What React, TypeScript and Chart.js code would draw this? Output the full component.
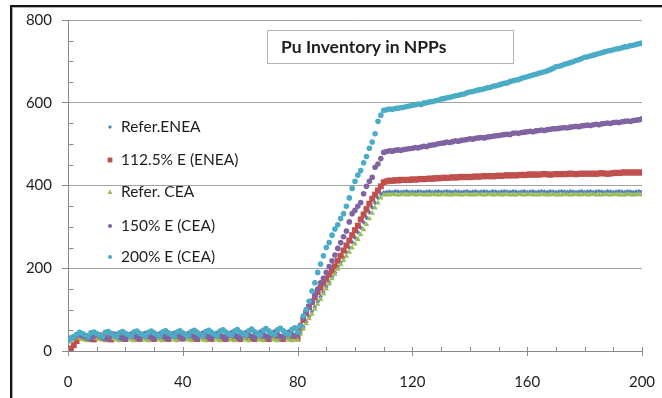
import React, { useEffect, useRef } from "react";
import { Chart, registerables } from "chart.js";

Chart.register(...registerables);

// ---- Data (x = year index 0..200) ----
const yearCount = 201;
const xMajorTicks = [0, 40, 80, 120, 160, 200];
const yMajorTicks = [0, 200, 400, 600, 800];

const seriesLabels = ["Refer.ENEA", "112.5% E (ENEA)", "Refer. CEA", "150% E (CEA)", "200% E (CEA)"];

const referEnea = [
  30, 32, 35, 38, 36, 33, 31, 29, 36, 38,
  35, 32, 30, 28, 36, 39, 35, 31, 29, 36,
  38, 34, 31, 29, 36, 39, 35, 32, 29, 36,
  38, 35, 31, 29, 37, 39, 35, 31, 29, 36,
  39, 35, 32, 29, 36, 38, 34, 31, 29, 37,
  39, 35, 31, 29, 36, 38, 35, 31, 29, 37,
  39, 35, 32, 29, 36, 38, 34, 31, 29, 37,
  39, 35, 31, 29, 36, 38, 35, 31, 29, 33,
  31, 45, 58, 70, 83, 95, 106, 119, 131, 142,
  155, 166, 179, 190, 203, 214, 226, 239, 250, 263,
  274, 287, 298, 311, 322, 335, 347, 358, 370, 379,
  383, 384, 385, 384, 386, 385, 384, 385, 386, 384,
  385, 384, 386, 385, 384, 385, 386, 384, 385, 386,
  384, 385, 386, 385, 384, 386, 385, 384, 385, 386,
  384, 385, 386, 384, 385, 386, 385, 384, 386, 385,
  384, 385, 386, 385, 384, 386, 385, 384, 385, 386,
  384, 385, 386, 384, 385, 386, 385, 384, 386, 385,
  384, 385, 386, 385, 384, 386, 385, 384, 385, 386,
  384, 385, 386, 384, 385, 386, 385, 384, 386, 385,
  384, 385, 386, 385, 384, 386, 385, 384, 385, 386,
  384,
];

const enea1125 = [
  0, 6, 14, 24, 34, 38, 36, 33, 30, 28,
  36, 38, 35, 32, 30, 28, 37, 39, 35, 31,
  29, 36, 38, 34, 31, 29, 37, 40, 36, 32,
  29, 35, 39, 35, 31, 29, 38, 40, 36, 32,
  30, 36, 39, 35, 31, 29, 37, 39, 34, 31,
  29, 36, 38, 35, 31, 29, 37, 40, 35, 32,
  29, 36, 38, 34, 31, 29, 37, 39, 35, 31,
  29, 36, 38, 34, 31, 29, 37, 38, 35, 31,
  30, 56, 75, 92, 106, 118, 130, 142, 153, 165,
  175, 185, 194, 205, 218, 230, 243, 255, 267, 280,
  292, 303, 318, 330, 343, 356, 368, 378, 388, 398,
  408, 410, 412, 411, 413, 412, 414, 413, 414, 413,
  415, 414, 415, 416, 415, 416, 417, 416, 418, 417,
  418, 419, 418, 419, 420, 419, 420, 421, 420, 421,
  420, 421, 422, 421, 422, 423, 422, 423, 422, 423,
  424, 423, 424, 425, 424, 425, 424, 425, 426, 425,
  426, 427, 426, 427, 426, 427, 428, 427, 426, 427,
  428, 427, 428, 427, 428, 429, 428, 427, 428, 429,
  428, 429, 428, 429, 428, 429, 430, 429, 428, 429,
  430, 431, 430, 431, 432, 431, 432, 431, 432, 431,
  432,
];

const referCea = [
  22, 26, 30, 33, 31, 28, 26, 25, 31, 34,
  31, 28, 26, 25, 32, 34, 30, 27, 25, 31,
  34, 31, 27, 25, 31, 34, 30, 27, 25, 32,
  34, 30, 27, 25, 31, 34, 31, 27, 25, 32,
  34, 30, 27, 25, 31, 33, 30, 27, 25, 32,
  34, 31, 27, 25, 32, 34, 30, 27, 25, 31,
  34, 30, 27, 25, 32, 34, 30, 27, 25, 31,
  34, 30, 27, 25, 31, 33, 30, 27, 25, 28,
  27, 41, 54, 66, 78, 89, 101, 113, 125, 138,
  150, 162, 175, 186, 198, 209, 219, 229, 239, 249,
  259, 270, 281, 293, 306, 320, 333, 346, 358, 370,
  377, 378, 377, 379, 378, 377, 378, 379, 377, 378,
  379, 377, 378, 379, 377, 378, 377, 379, 378, 377,
  378, 379, 377, 378, 377, 379, 378, 377, 378, 379,
  377, 378, 377, 379, 378, 377, 378, 379, 377, 378,
  379, 377, 378, 379, 377, 378, 377, 379, 378, 377,
  378, 379, 377, 378, 377, 379, 378, 377, 378, 379,
  377, 378, 377, 379, 378, 377, 378, 379, 377, 378,
  379, 377, 378, 379, 377, 378, 377, 379, 378, 377,
  378, 379, 377, 378, 377, 379, 378, 377, 378, 379,
  377,
];

const cea150 = [
  28, 31, 34, 37, 40, 37, 34, 31, 29, 37,
  40, 36, 33, 30, 29, 38, 41, 37, 33, 30,
  29, 37, 41, 37, 33, 30, 38, 42, 37, 33,
  30, 38, 41, 37, 33, 30, 38, 42, 38, 34,
  30, 39, 42, 38, 34, 30, 39, 43, 38, 34,
  31, 39, 43, 38, 34, 31, 40, 44, 39, 34,
  31, 40, 44, 39, 35, 31, 41, 45, 40, 35,
  32, 41, 46, 40, 35, 32, 42, 46, 40, 36,
  42, 62, 80, 95, 108, 121, 135, 150, 165, 176,
  190, 204, 218, 232, 248, 262, 276, 290, 312, 332,
  340, 350, 359, 380, 398, 410, 420, 444, 452, 465,
  480, 482, 484, 483, 485, 486, 485, 487, 488, 489,
  490, 492, 491, 493, 495, 494, 497, 498, 499, 501,
  502, 503, 505, 504, 506, 508, 507, 509, 510, 511,
  513, 512, 514, 515, 516, 515, 517, 518, 519, 520,
  521, 522, 523, 524, 523, 526, 527, 526, 528, 529,
  530, 531, 530, 532, 533, 534, 533, 535, 536, 537,
  537, 538, 539, 540, 539, 541, 542, 543, 542, 544,
  545, 546, 545, 547, 548, 547, 549, 550, 551, 550,
  552, 553, 552, 554, 555, 556, 555, 557, 558, 559,
  561,
];

const cea200 = [
  25, 30, 35, 40, 45, 42, 38, 34, 44, 46,
  42, 38, 35, 45, 47, 43, 38, 35, 44, 47,
  43, 39, 36, 46, 48, 43, 39, 36, 45, 48,
  44, 39, 36, 46, 49, 44, 40, 36, 46, 49,
  44, 40, 37, 47, 50, 45, 40, 37, 47, 50,
  45, 41, 37, 48, 51, 46, 41, 38, 48, 52,
  46, 41, 38, 49, 53, 47, 42, 38, 50, 54,
  48, 42, 39, 51, 55, 49, 43, 40, 52, 56,
  46, 60, 85, 100, 120, 145, 165, 190, 210, 230,
  250, 262, 280, 295, 305, 320, 332, 350, 370, 393,
  410, 425, 436, 455, 470, 490, 505, 525, 555, 570,
  582, 583, 585, 584, 586, 587, 588, 589, 591, 592,
  594, 595, 597, 596, 599, 600, 602, 603, 605, 606,
  609, 610, 612, 613, 615, 617, 618, 620, 621, 624,
  626, 627, 629, 631, 632, 634, 636, 637, 640, 641,
  643, 645, 647, 648, 651, 653, 655, 656, 659, 661,
  663, 665, 667, 669, 671, 673, 675, 677, 680, 683,
  687, 688, 690, 693, 695, 697, 699, 702, 704, 707,
  710, 711, 713, 715, 717, 719, 721, 723, 725, 726,
  728, 730, 731, 733, 735, 736, 738, 739, 741, 743,
  744,
];

const titleText = "Pu Inventory in NPPs";

// ---- Styles ----
const FONT = "Lato, 'Open Sans', sans-serif";
const TEXT = "#1e1e1e";
const AXIS = "#8a8a8a";
const GRID = "#a3a3a3";

type SeriesStyle = { color: string; shape: string; radius: number; order: number };
const styles: SeriesStyle[] = [
  { color: "#4F81BD", shape: "rectRot", radius: 2.4, order: 5 },
  { color: "#C0504D", shape: "rect", radius: 4.2, order: 4 },
  { color: "#9BBB59", shape: "triangle", radius: 3.2, order: 3 },
  { color: "#8064A2", shape: "circle", radius: 2.8, order: 2 },
  { color: "#4BACC6", shape: "circle", radius: 2.8, order: 1 },
];
const allSeries = [referEnea, enea1125, referCea, cea150, cea200];

function drawMarker(ctx: CanvasRenderingContext2D, shape: string, x: number, y: number, s: number, color: string) {
  ctx.fillStyle = color;
  ctx.beginPath();
  if (shape === "rect") {
    ctx.rect(x - s, y - s, 2 * s, 2 * s);
  } else if (shape === "rectRot") {
    ctx.moveTo(x, y - s);
    ctx.lineTo(x + s, y);
    ctx.lineTo(x, y + s);
    ctx.lineTo(x - s, y);
    ctx.closePath();
  } else if (shape === "triangle") {
    ctx.moveTo(x, y - s);
    ctx.lineTo(x + s, y + s * 0.8);
    ctx.lineTo(x - s, y + s * 0.8);
    ctx.closePath();
  } else {
    ctx.arc(x, y, s, 0, Math.PI * 2);
  }
  ctx.fill();
}

const overlayPlugin = {
  id: "overlay",
  afterDraw(chart: any) {
    const ctx: CanvasRenderingContext2D = chart.ctx;
    const xs = chart.scales.x;
    const ys = chart.scales.y;
    const axisY = Math.round(ys.getPixelForValue(0)) + 0.5;
    const axisX = Math.round(xs.getPixelForValue(0)) + 0.5;
    ctx.save();
    ctx.strokeStyle = AXIS;
    ctx.lineWidth = 1;
    ctx.beginPath();
    // x-axis ticks: minor every 10 (inside), major crossing
    for (let v = 0; v <= 200; v += 10) {
      const px = Math.round(xs.getPixelForValue(v)) + 0.5;
      if (xMajorTicks.includes(v)) {
        ctx.moveTo(px, axisY - 4.5);
        ctx.lineTo(px, axisY + 4.5);
      } else {
        ctx.moveTo(px, axisY - 4.5);
        ctx.lineTo(px, axisY);
      }
    }
    // y-axis minor ticks every 50 (inside)
    for (let v = 50; v < 800; v += 50) {
      if (yMajorTicks.includes(v)) continue;
      const py = Math.round(ys.getPixelForValue(v)) + 0.5;
      ctx.moveTo(axisX, py);
      ctx.lineTo(axisX + 5, py);
    }
    ctx.stroke();

    // title box
    ctx.fillStyle = "#ffffff";
    ctx.fillRect(267, 30, 246, 33);
    ctx.strokeStyle = "#b4b4b4";
    ctx.strokeRect(267.5, 30.5, 246, 33);
    ctx.fillStyle = TEXT;
    ctx.font = `bold 17.5px ${FONT}`;
    ctx.textBaseline = "middle";
    ctx.textAlign = "left";
    ctx.fillText(titleText, 281, 47);

    // legend
    const rows = [127, 160, 192, 226, 257];
    const legendSizes = [2.0, 2.4, 2.4, 2.1, 2.1];
    ctx.font = `15.5px ${FONT}`;
    seriesLabels.forEach((label, i) => {
      drawMarker(ctx, styles[i].shape, 110, rows[i], legendSizes[i], styles[i].color);
      ctx.fillStyle = TEXT;
      ctx.fillText(label, 121, rows[i]);
    });
    ctx.restore();
  },
};

export default function App() {
  const canvasRef = useRef<HTMLCanvasElement | null>(null);

  useEffect(() => {
    const canvas = canvasRef.current;
    if (!canvas) return;
    const datasets = allSeries.map((arr, i) => ({
      label: seriesLabels[i],
      data: arr.slice(0, yearCount).map((y, x) => ({ x, y })),
      backgroundColor: styles[i].color,
      borderColor: styles[i].color,
      borderWidth: 0,
      pointStyle: styles[i].shape,
      pointRadius: styles[i].radius,
      pointBorderWidth: 0,
      showLine: false,
      order: styles[i].order,
    }));
    const chart = new Chart(canvas, {
      type: "scatter",
      data: { datasets },
      options: {
        animation: false,
        responsive: false,
        maintainAspectRatio: false,
        events: [],
        layout: { padding: { left: 0, right: 20, top: 20, bottom: 0 } },
        plugins: {
          legend: { display: false },
          tooltip: { enabled: false },
          title: { display: false },
        },
        scales: {
          x: {
            type: "linear",
            min: 0,
            max: 200,
            afterFit: (s: any) => {
              s.height = 47;
              s.paddingLeft = 0;
              s.paddingRight = 0;
            },
            ticks: {
              stepSize: 40,
              padding: 22,
              color: TEXT,
              font: { family: FONT, size: 15 },
              maxRotation: 0,
              autoSkip: false,
            },
            grid: { display: true, drawOnChartArea: false, drawTicks: false },
            border: { color: AXIS, width: 1 },
          },
          y: {
            type: "linear",
            min: 0,
            max: 800,
            afterFit: (s: any) => {
              s.width = 68;
              s.paddingTop = 0;
              s.paddingBottom = 0;
            },
            ticks: {
              stepSize: 200,
              padding: 10,
              color: TEXT,
              font: { family: FONT, size: 15 },
            },
            grid: { color: GRID, tickColor: AXIS, tickLength: 6, lineWidth: 1 },
            border: { color: AXIS, width: 1 },
          },
        },
      },
      plugins: [overlayPlugin],
    } as any);
    return () => chart.destroy();
  }, []);

  return (
    <div style={{ position: "absolute", left: 0, top: 0, width: 662, height: 398, background: "#fff", overflow: "hidden" }}>
      <canvas ref={canvasRef} width={662} height={398} style={{ position: "absolute", left: 0, top: 0, width: 662, height: 398 }} />
      <div
        style={{
          position: "absolute",
          left: 10,
          top: 5,
          width: 660,
          height: 400,
          borderLeft: "2px solid #151515",
          borderTop: "2px solid #151515",
          boxShadow: "inset 1px 1px 0 #b0b0b0",
          pointerEvents: "none",
        }}
      />
    </div>
  );
}
